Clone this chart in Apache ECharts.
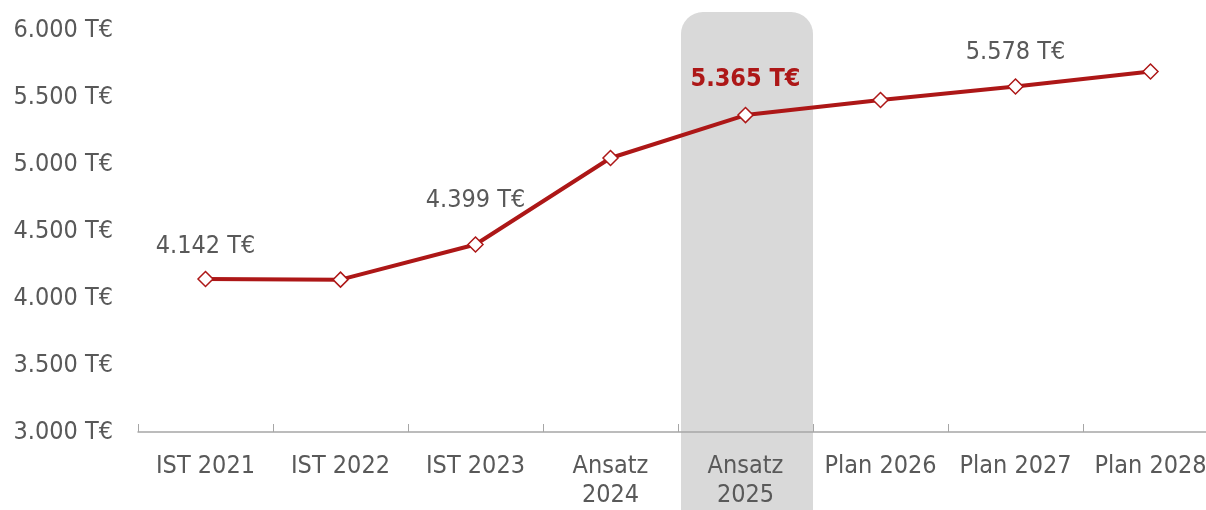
<!DOCTYPE html>
<html><head><meta charset="utf-8">
<script src="https://cdn.jsdelivr.net/npm/echarts@6/dist/echarts.min.js"></script>
<style>html,body{margin:0;padding:0;background:#fff;overflow:hidden}#c{width:1218px;height:510px}</style>
</head><body><div id="c"></div>
<script>
const categories = ['IST 2021','IST 2022','IST 2023','Ansatz\n2024','Ansatz\n2025','Plan 2026','Plan 2027','Plan 2028'];
const values = [4142, 4137, 4399, 5045, 5365, 5478, 5578, 5690];
const labeledIndices = [0, 2, 4, 6];
const highlightIndex = 4;
const yTicks = {min: 3000, max: 6000, interval: 500};

const FONT = 'DejaVu Sans Condensed';
const RED = '#ad1717';
const GREY = '#595959';
function fmt(v){ return String(v).replace(/\B(?=(\d{3})+(?!\d))/g, '.') + ' T€'; }

const labelOffsets = {0: 12, 2: 23, 4: 15, 6: 13};
const lineData = values.map((v, i) => {
  const item = {value: v};
  if (labeledIndices.includes(i)) {
    item.label = {show: true, position: 'top', distance: labelOffsets[i],
      formatter: fmt(v), fontFamily: FONT, fontSize: 25, color: GREY};
    if (i === highlightIndex) { item.label.color = RED; item.label.fontWeight = 'bold'; }
  }
  return item;
});

const chart = echarts.init(document.getElementById('c'));
chart.setOption({
  animation: false,
  grid: {left: 138, right: 0, top: 30, bottom: 78, containLabel: false},
  xAxis: {type: 'category', data: categories, boundaryGap: true,
    axisLine: {lineStyle: {color: '#a6a6a6', width: 1.5}},
    axisTick: {show: true, inside: true, length: 8, lineStyle: {color: '#a6a6a6', width: 1}},
    axisLabel: {fontFamily: FONT, fontSize: 25, color: GREY, margin: 20, lineHeight: 29, interval: 0}
  },
  yAxis: {type: 'value', min: yTicks.min, max: yTicks.max, interval: yTicks.interval,
    splitLine: {show: false}, axisLine: {show: false}, axisTick: {show: false},
    axisLabel: {fontFamily: FONT, fontSize: 25, color: GREY, margin: 25, formatter: v => fmt(v)}
  },
  series: [
    {type: 'custom', z: 0, silent: true,
     data: [[highlightIndex, yTicks.max]],
     renderItem: function(params, api){
       const c = api.coord([api.value(0), api.value(1)]);
       const w = api.size([1, 0])[0] - 3;
       return {type: 'rect', shape: {x: c[0] - w/2 + 1.5, y: 12, width: w, height: 540, r: 22},
               style: {fill: '#d9d9d9'}};
     }},
    {type: 'line', z: 3, data: lineData, symbol: 'diamond', symbolSize: 15,
     lineStyle: {color: RED, width: 4},
     itemStyle: {color: '#ffffff', borderColor: RED, borderWidth: 1.5}
    }
  ]
});
</script></body></html>
